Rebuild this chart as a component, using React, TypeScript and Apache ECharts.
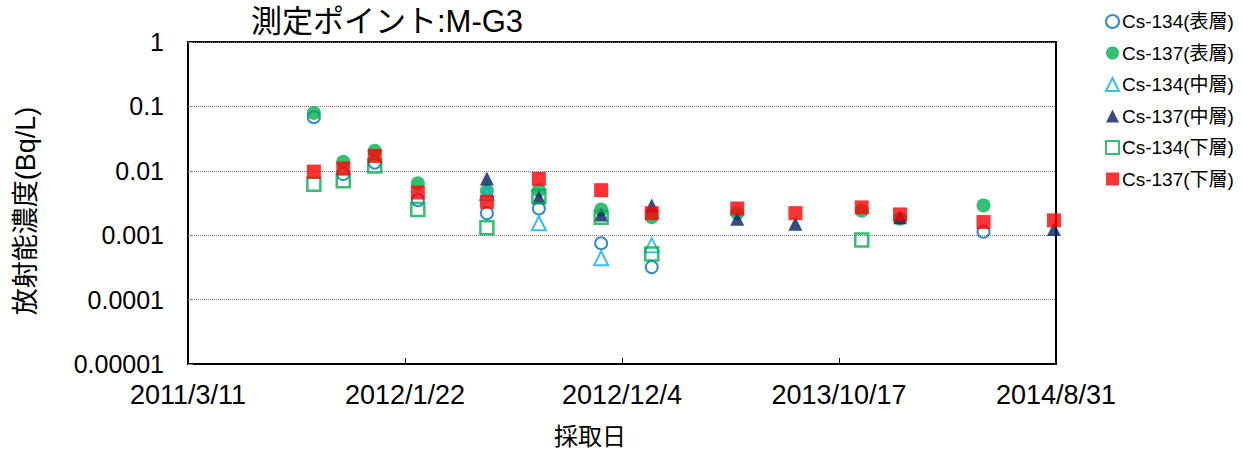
import React, { useEffect, useRef } from "react";
import * as echarts from "echarts";

// Sampling dates
const dates = [
  "2011-09-11", "2011-10-24", "2011-12-09", "2012-02-10", "2012-05-21",
  "2012-08-05", "2012-11-04", "2013-01-17", "2013-05-22", "2013-08-15",
  "2013-11-20", "2014-01-15", "2014-05-17", "2014-08-28",
];

// Series values (Bq/L); null = not shown
const cs134Surface = [0.068, 0.0089, 0.0134, 0.0035, 0.0022, 0.0026, 0.00075, 0.00032, null, null, null, null, 0.00113, null];
const cs137Surface = [0.079, 0.0138, 0.0205, 0.0064, 0.0049, 0.005, 0.0025, 0.0019, 0.0022, null, 0.0024, 0.0018, 0.0029, null];
const cs134Middle = [null, null, null, null, 0.0045, 0.00153, 0.00044, 0.0007, null, null, null, null, null, null];
const cs137Middle = [null, null, null, null, 0.0076, 0.0039, 0.0021, 0.0029, 0.0018, 0.0015, null, 0.0019, null, 0.00125];
const cs134Bottom = [0.0062, 0.007, 0.0119, 0.0025, 0.0013, 0.004, 0.0019, 0.00051, null, null, 0.00084, null, null, null];
const cs137Bottom = [0.0097, 0.0109, 0.017, 0.0046, 0.0033, 0.0075, 0.005, 0.0022, 0.0026, 0.0022, 0.0027, 0.0021, 0.0016, 0.0017];

// Axis range (4 equal major units between start and end)
const xStart = "2011-03-11";
const xEnd = "2014-08-31";
const xMajorUnits = 4;
const yMin = 0.00001;
const yMax = 1;

const titleText = "測定ポイント:M-G3";
const yAxisTitle = "放射能濃度(Bq/L)";
const xAxisTitle = "採取日";

const DAY = 86400000;
function toUTC(s: string) {
  const [y, m, d] = s.split("-").map(Number);
  return Date.UTC(y, m - 1, d);
}
const ORIGIN = toUTC(xStart);
const dayOf = (s: string) => Math.round((toUTC(s) - ORIGIN) / DAY);

function pairs(vals: (number | null)[]) {
  const out: [number, number][] = [];
  vals.forEach((v, i) => {
    if (v != null) out.push([dayOf(dates[i]), v]);
  });
  return out;
}

const FONT = "'Liberation Sans', 'Noto Sans CJK JP', sans-serif";

export default function App() {
  const ref = useRef<HTMLDivElement>(null);
  useEffect(() => {
    if (!ref.current) return;
    const chart = echarts.init(ref.current, null, { renderer: "svg" });
    const clear = "rgba(0,0,0,0)";
    const series = [
      { name: "Cs-134(表層)", symbol: "circle", symbolSize: 12, itemStyle: { color: clear, borderColor: "#0070c0", borderWidth: 2 }, data: pairs(cs134Surface) },
      { name: "Cs-137(表層)", symbol: "circle", symbolSize: 14, itemStyle: { color: "#00b050" }, data: pairs(cs137Surface) },
      { name: "Cs-134(中層)", symbol: "triangle", symbolSize: 14, itemStyle: { color: clear, borderColor: "#00b0f0", borderWidth: 2 }, data: pairs(cs134Middle) },
      { name: "Cs-137(中層)", symbol: "triangle", symbolSize: 14, itemStyle: { color: "#002060" }, data: pairs(cs137Middle) },
      { name: "Cs-134(下層)", symbol: "rect", symbolSize: 13, itemStyle: { color: clear, borderColor: "#00b050", borderWidth: 2.5 }, data: pairs(cs134Bottom) },
      { name: "Cs-137(下層)", symbol: "rect", symbolSize: 14, itemStyle: { color: "#ff0000" }, data: pairs(cs137Bottom) },
    ].map((s) => ({ ...s, type: "scatter" as const }));

    const xMax = dayOf(xEnd);

    chart.setOption({
      animation: false,
      backgroundColor: "#fff",
      title: {
        text: titleText,
        left: 246,
        top: 1,
        textStyle: { fontSize: 31, fontWeight: "normal", color: "#000", fontFamily: FONT },
      },
      legend: {
        orient: "vertical",
        left: 1100,
        top: 6,
        itemWidth: 13,
        itemHeight: 13,
        itemGap: 10.5,
        textStyle: { fontSize: 19, lineHeight: 21, color: "#000", fontFamily: FONT, padding: [0, 0, 0, -2] },
        data: series.map((s) => s.name),
      },
      grid: {
        left: 188,
        right: 186,
        top: 42,
        bottom: 86,
        show: true,
        borderColor: "#000",
        borderWidth: 2,
        containLabel: false,
        outerBoundsMode: "none",
      },
      xAxis: {
        type: "value",
        min: 0,
        max: xMax,
        interval: xMax / xMajorUnits,
        axisLine: { show: true, lineStyle: { color: "#000", width: 2 } },
        axisTick: { show: true, inside: true, length: 6, lineStyle: { color: "#000" } },
        splitLine: { show: false },
        axisLabel: {
          fontSize: 27,
          color: "#000",
          fontFamily: FONT,
          margin: 17,
          formatter: (v: number) => {
            const d = new Date(ORIGIN + Math.floor(v + 1e-6) * DAY);
            return `${d.getUTCFullYear()}/${d.getUTCMonth() + 1}/${d.getUTCDate()}`;
          },
        },
      },
      yAxis: {
        type: "log",
        logBase: 10,
        min: yMin,
        max: yMax,
        axisLine: { show: true, lineStyle: { color: "#000", width: 2 } },
        axisTick: { show: true, inside: true, length: 5, lineStyle: { color: "#888" } },
        splitLine: { show: true, lineStyle: { color: "#777", type: "dotted", width: 1 } },
        axisLabel: {
          fontSize: 25,
          color: "#000",
          fontFamily: FONT,
          margin: 24,
          formatter: (v: number) => {
            const e = Math.round(Math.log10(v));
            return e >= 0 ? String(Math.round(v)) : v.toFixed(-e);
          },
        },
      },
      graphic: [
        {
          type: "text",
          x: 26,
          y: 211,
          rotation: Math.PI / 2,
          style: {
            text: yAxisTitle,
            fontSize: 27,
            fill: "#000",
            fontFamily: FONT,
            align: "center",
            verticalAlign: "middle",
          },
        },
        {
          type: "text",
          x: 590,
          y: 436,
          style: {
            text: xAxisTitle,
            fontSize: 24,
            fill: "#000",
            fontFamily: FONT,
            align: "center",
            verticalAlign: "middle",
          },
        },
      ],
      series,
    });
    return () => chart.dispose();
  }, []);
  return (
    <div
      ref={ref}
      style={{ position: "fixed", left: 0, top: 0, width: 1242, height: 450, background: "#fff" }}
    />
  );
}
